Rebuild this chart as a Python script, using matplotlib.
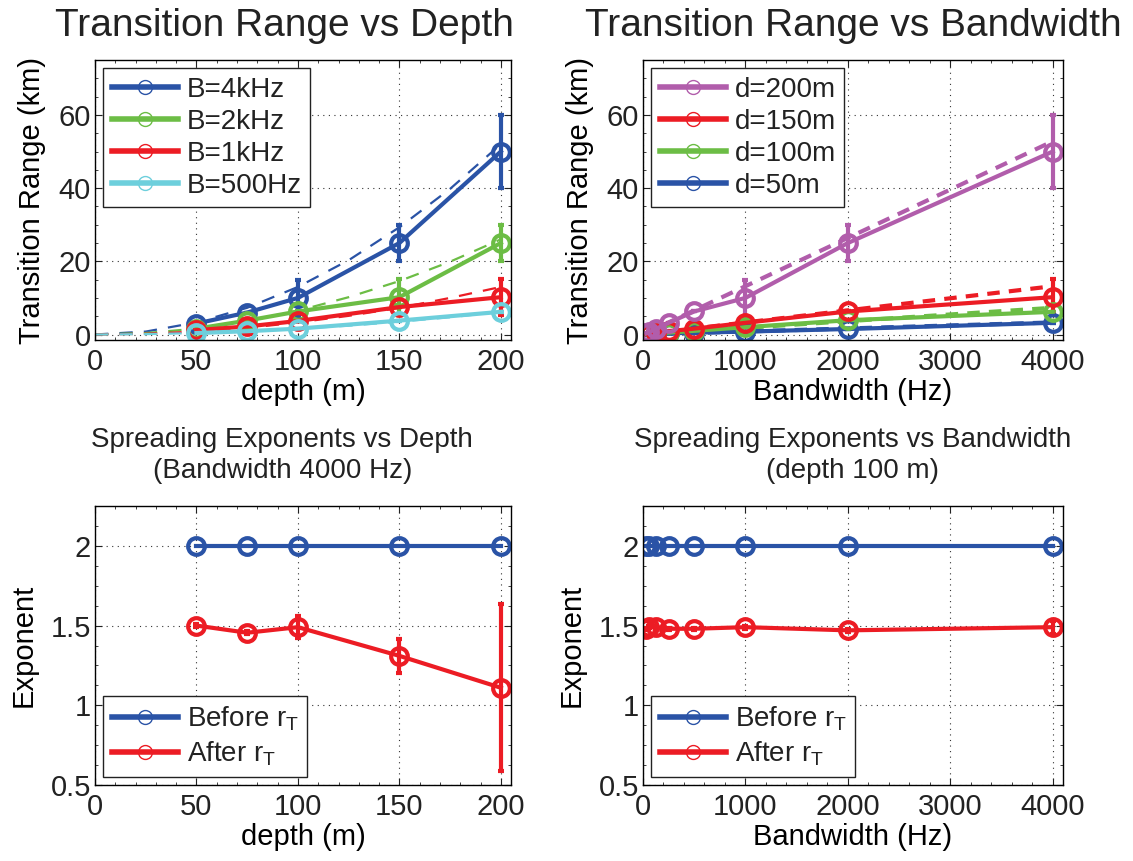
import numpy as np
import matplotlib as mpl
import matplotlib.pyplot as plt
from matplotlib.lines import Line2D
from matplotlib.ticker import AutoMinorLocator

mpl.rcParams.update({
    "font.family": ["Liberation Sans", "DejaVu Sans"],
    "font.size": 20,
    "mathtext.fontset": "custom",
    "mathtext.rm": "Liberation Sans",
    "xtick.direction": "in",
    "ytick.direction": "in",
    "xtick.top": True,
    "ytick.right": True,
    "axes.linewidth": 1.0,
    "text.color": "#222222",
    "xtick.color": "#222222",
    "ytick.color": "#222222",
})

# -----------------------
# data
# -----------------------
depths = [50, 75, 100, 150, 200]
fit_depths = [0, 25, 50, 75, 100, 125, 150, 175, 200]

tr_4k = [3, 6, 10, 25, 50]
tr_4k_err = [0, 0, 5, 5, 10]
tr_2k = [1.6, 3.8, 6.3, 10.2, 25]
tr_2k_err = [0, 0, 0, 5, 5]
tr_1k = [1.2, 2.2, 3.7, 7.5, 10.2]
tr_1k_err = [0, 0, 0, 0, 5]
tr_500 = [0.4, 0.9, 1.6, 3.8, 6.2]
tr_500_err = [0, 0, 0, 0, 0]

fit_4k = [0, 0.8, 3.3, 7.3, 13, 20.3, 29.3, 39.8, 52]
fit_2k = [0, 0.4, 1.6, 3.7, 6.5, 10.2, 14.6, 19.9, 26]
fit_1k = [0, 0.2, 0.8, 1.8, 3.3, 5.1, 7.3, 10.0, 13]
fit_500 = [0, 0.1, 0.4, 0.9, 1.6, 2.4, 3.5, 4.7, 6.2]

bandwidths = [31.25, 62.5, 125, 250, 500, 1000, 2000, 4000]
fit_bw = [0, 4000]

tr_d200 = [0.3, 0.7, 1.5, 3.2, 6.3, 10, 25, 50]
tr_d200_err = [0, 0, 0, 0, 0, 5, 5, 10]
tr_d150 = [0.1, 0.2, 0.5, 0.9, 1.6, 3.2, 6.3, 10.2]
tr_d150_err = [0, 0, 0, 0, 0, 0, 0, 5]
tr_d100 = [0.1, 0.1, 0.3, 0.5, 1.0, 2.0, 3.9, 6.2]
tr_d100_err = [0, 0, 0, 0, 0, 0, 0, 0]
tr_d50 = [0.05, 0.1, 0.15, 0.3, 0.5, 0.8, 1.5, 3.2]
tr_d50_err = [0, 0, 0, 0, 0, 0, 0, 0]

fitbw_d200 = [0, 52.8]
fitbw_d150 = [0, 13.2]
fitbw_d100 = [0, 7.3]
fitbw_d50 = [0, 3.3]

exp_before_depth = [2, 2, 2, 2, 2]
exp_after_depth = [1.50, 1.455, 1.49, 1.31, 1.11]
exp_after_depth_err = [0.01, 0.01, 0.07, 0.105, 0.525]

exp_before_bw = [2, 2, 2, 2, 2, 2, 2, 2]
exp_after_bw = [1.48, 1.49, 1.49, 1.48, 1.48, 1.49, 1.47, 1.49]
exp_after_bw_err = [0.005, 0.005, 0.005, 0.005, 0.005, 0.01, 0.01, 0.04]

BLUE = "#2a53a6"
GREEN = "#6cbd45"
RED = "#ec1c24"
CYAN = "#6dcfdc"
PURPLE = "#b15dab"


def style_axes(ax):
    ax.grid(True, color="#333333", linestyle=(0, (1, 4)), linewidth=0.8)
    ax.xaxis.set_minor_locator(AutoMinorLocator(5))
    ax.yaxis.set_minor_locator(AutoMinorLocator(4))
    ax.tick_params(which="major", length=5)
    ax.tick_params(which="minor", length=2.5)
    ax.tick_params(labelsize=21)
    ax.tick_params(axis="x", pad=6)
    ax.tick_params(axis="y", pad=3)


def series(ax, x, y, err, color, lw=3):
    ax.errorbar(x, y, yerr=err, color=color, lw=lw, marker="o", ms=12,
                mfc="none", mew=3, elinewidth=3, capsize=2.5, capthick=3)


def legend(ax, labels, colors, loc):
    handles = [Line2D([], [], color=c, lw=4, marker="o", ms=10, mfc="none", mew=1)
               for c in colors]
    leg = ax.legend(handles, labels, loc=loc, fontsize=20, handlelength=2.4,
                    fancybox=False, framealpha=1, edgecolor="#222222",
                    borderpad=0.3, labelspacing=0.22, handletextpad=0.3,
                    borderaxespad=0.3)
    leg.get_frame().set_linewidth(1.0)


fig = plt.figure(figsize=(11.33, 8.61), dpi=100)

ax1 = fig.add_axes([95 / 1133, 521 / 861, 416 / 1133, 280 / 861])
ax2 = fig.add_axes([643 / 1133, 521 / 861, 420 / 1133, 280 / 861])
ax3 = fig.add_axes([95 / 1133, 76 / 861, 416 / 1133, 279 / 861])
ax4 = fig.add_axes([643 / 1133, 76 / 861, 420 / 1133, 279 / 861])

# (1) transition range vs depth
for fit, c in [(fit_4k, BLUE), (fit_2k, GREEN), (fit_1k, RED), (fit_500, CYAN)]:
    ax1.plot(fit_depths, fit, color=c, lw=1.6, ls=(0, (6, 5)))
for y, e, c in [(tr_4k, tr_4k_err, BLUE), (tr_2k, tr_2k_err, GREEN),
                (tr_1k, tr_1k_err, RED), (tr_500, tr_500_err, CYAN)]:
    series(ax1, depths, y, e, c)
ax1.set_xlim(0, 205)
ax1.set_ylim(-1.5, 75)
ax1.set_xticks([0, 50, 100, 150, 200])
ax1.set_yticks([0, 20, 40, 60])
ax1.set_xlabel("depth (m)", fontsize=21, labelpad=1)
ax1.set_ylabel("Transition Range (km)", fontsize=21, labelpad=9)
ax1.set_title("Transition Range vs Depth", fontsize=28, pad=17, x=0.455)
style_axes(ax1)
legend(ax1, ["B=4kHz", "B=2kHz", "B=1kHz", "B=500Hz"], [BLUE, GREEN, RED, CYAN], "upper left")

# (2) transition range vs bandwidth
for fit, c in [(fitbw_d200, PURPLE), (fitbw_d150, RED), (fitbw_d100, GREEN), (fitbw_d50, BLUE)]:
    ax2.plot(fit_bw, fit, color=c, lw=3, ls=(0, (3, 2.2)))
for y, e, c in [(tr_d50, tr_d50_err, BLUE), (tr_d100, tr_d100_err, GREEN),
                (tr_d150, tr_d150_err, RED), (tr_d200, tr_d200_err, PURPLE)]:
    series(ax2, bandwidths, y, e, c)
ax2.set_xlim(0, 4100)
ax2.set_ylim(-1.5, 75)
ax2.set_xticks([0, 1000, 2000, 3000, 4000])
ax2.set_yticks([0, 20, 40, 60])
ax2.set_xlabel("Bandwidth (Hz)", fontsize=21, labelpad=1)
ax2.set_ylabel("Transition Range (km)", fontsize=21, labelpad=9)
ax2.set_title("Transition Range vs Bandwidth", fontsize=28, pad=17)
style_axes(ax2)
legend(ax2, ["d=200m", "d=150m", "d=100m", "d=50m"], [PURPLE, RED, GREEN, BLUE], "upper left")

# (3) exponents vs depth
series(ax3, depths, exp_before_depth, None, BLUE)
series(ax3, depths, exp_after_depth, exp_after_depth_err, RED)
ax3.set_xlim(0, 205)
ax3.set_ylim(0.5, 2.25)
ax3.set_xticks([0, 50, 100, 150, 200])
ax3.set_yticks([0.5, 1, 1.5, 2])
ax3.set_yticklabels(["0.5", "1", "1.5", "2"])
ax3.set_xlabel("depth (m)", fontsize=21, labelpad=1)
ax3.set_ylabel("Exponent", fontsize=21, labelpad=9)
ax3.set_title("Spreading Exponents vs Depth\n(Bandwidth 4000 Hz)", fontsize=20,
              pad=20, linespacing=1.25, x=0.45)
style_axes(ax3)
legend(ax3, [r"Before r$_\mathregular{T}$", r"After r$_\mathregular{T}$"], [BLUE, RED], "lower left")

# (4) exponents vs bandwidth
series(ax4, bandwidths, exp_before_bw, None, BLUE)
series(ax4, bandwidths, exp_after_bw, exp_after_bw_err, RED)
ax4.set_xlim(0, 4100)
ax4.set_ylim(0.5, 2.25)
ax4.set_xticks([0, 1000, 2000, 3000, 4000])
ax4.set_yticks([0.5, 1, 1.5, 2])
ax4.set_yticklabels(["0.5", "1", "1.5", "2"])
ax4.set_xlabel("Bandwidth (Hz)", fontsize=21, labelpad=1)
ax4.set_ylabel("Exponent", fontsize=21, labelpad=9)
ax4.set_title("Spreading Exponents vs Bandwidth\n(depth 100 m)", fontsize=20,
              pad=20, linespacing=1.25)
style_axes(ax4)
legend(ax4, [r"Before r$_\mathregular{T}$", r"After r$_\mathregular{T}$"], [BLUE, RED], "lower left")

plt.savefig("out.png", dpi=100)
